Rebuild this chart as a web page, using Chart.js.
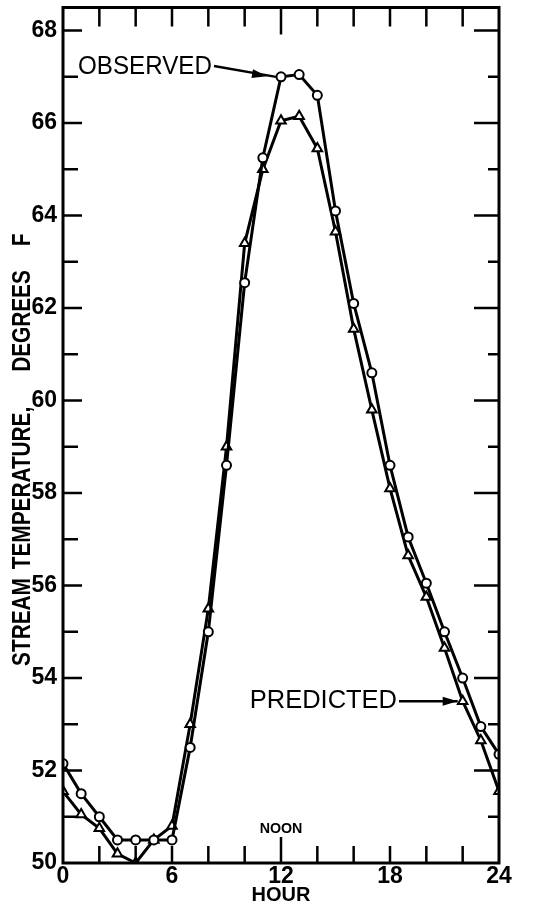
<!DOCTYPE html>
<html>
<head>
<meta charset="utf-8">
<script src="https://cdn.jsdelivr.net/npm/chart.js@4.4.0/dist/chart.umd.min.js"></script>
<style>
html,body{margin:0;padding:0;background:#fff;}
#wrap{width:535px;height:905px;position:relative;}
</style>
</head>
<body>
<div id="wrap"><canvas id="c" width="535" height="905"></canvas></div>
<script>
// ---- data ----
const hours = [0,1,2,3,4,5,6,7,8,9,10,11,12,13,14,15,16,17,18,19,20,21,22,23,24];
const observed = [52.15,51.5,51.0,50.5,50.5,50.5,50.5,52.5,55.0,58.6,62.55,65.25,67.0,67.05,66.6,64.1,62.1,60.6,58.6,57.05,56.05,55.0,54.0,52.95,52.35];
const predicted = [51.55,51.05,50.75,50.2,50.0,50.5,50.8,53.0,55.5,59.0,63.4,65.0,66.05,66.15,65.45,63.65,61.55,59.8,58.1,56.65,55.75,54.65,53.5,52.65,51.55];
const xTickValues = [0,6,12,18,24];
const yTickValues = [50,52,54,56,58,60,62,64,66,68];
const xTitle = 'HOUR';
const yTitleWords = ['STREAM','TEMPERATURE,','DEGREES','F'];
const noonLabel = 'NOON';
const observedLabel = 'OBSERVED';
const predictedLabel = 'PREDICTED';

const FONT = "'Liberation Sans', Arial, Helvetica, sans-serif";

function drawScaledText(ctx, text, x, y, font, sx, align, rot) {
  ctx.save();
  ctx.translate(x, y);
  if (rot) ctx.rotate(rot);
  ctx.scale(sx, 1);
  ctx.font = font;
  ctx.textAlign = align;
  ctx.textBaseline = 'middle';
  ctx.fillStyle = '#000';
  ctx.fillText(text, 0, 0);
  ctx.restore();
}

function drawArrow(ctx, x1, y1, x2, y2, tipX, tipY) {
  ctx.save();
  ctx.strokeStyle = '#000';
  ctx.fillStyle = '#000';
  ctx.lineWidth = 2.5;
  ctx.beginPath();
  ctx.moveTo(x1, y1);
  ctx.lineTo(x2, y2);
  ctx.stroke();
  const ang = Math.atan2(y2 - y1, x2 - x1);
  const L = 15, W = 4.5;
  ctx.beginPath();
  ctx.moveTo(tipX, tipY);
  ctx.lineTo(tipX - L * Math.cos(ang) + W * Math.sin(ang), tipY - L * Math.sin(ang) - W * Math.cos(ang));
  ctx.lineTo(tipX - L * Math.cos(ang) - W * Math.sin(ang), tipY - L * Math.sin(ang) + W * Math.cos(ang));
  ctx.closePath();
  ctx.fill();
  ctx.restore();
}

const framePlugin = {
  id: 'frame',
  afterDatasetsDraw(chart) {
    const {ctx, chartArea: a, scales: {x, y}} = chart;
    ctx.save();
    ctx.strokeStyle = '#000';
    ctx.lineCap = 'butt';
    ctx.lineWidth = 2.5;
    ctx.beginPath();
    for (let v = 51; v <= 68; v++) {
      const py = y.getPixelForValue(v);
      const even = v % 2 === 0;
      ctx.moveTo(a.left, py); ctx.lineTo(a.left + (even ? 19 : 15), py);
      ctx.moveTo(a.right, py); ctx.lineTo(a.right - (even ? 25 : 11), py);
    }
    for (let h = 2; h <= 22; h += 2) {
      const px = x.getPixelForValue(h);
      ctx.moveTo(px, a.top); ctx.lineTo(px, a.top + (h === 12 ? 27 : 19));
      ctx.moveTo(px, a.bottom); ctx.lineTo(px, a.bottom - (h === 12 ? 26 : 17));
    }
    ctx.stroke();
    ctx.lineWidth = 3;
    ctx.strokeRect(a.left, a.top, a.right - a.left, a.bottom - a.top);
    ctx.restore();

    // NOON label above the 12-hour tick
    drawScaledText(ctx, noonLabel, x.getPixelForValue(12), a.bottom - 34, 'bold 15px ' + FONT, 0.95, 'center');

    // OBSERVED annotation + arrow to hour-12 observed point
    const ox = x.getPixelForValue(12), oy = y.getPixelForValue(observed[12]);
    drawScaledText(ctx, observedLabel, 78, 67, '26px ' + FONT, 0.93, 'left');
    drawArrow(ctx, 214, 66, ox - 5, oy, ox - 14, oy - 0.7);

    // PREDICTED annotation + arrow to hour-22 predicted point
    const px = x.getPixelForValue(22), py = y.getPixelForValue(predicted[22]);
    drawScaledText(ctx, predictedLabel, 397, py, '26px ' + FONT, 0.98, 'right');
    drawArrow(ctx, 399, py, px - 5, py, px - 5, py);

    // Y-axis title (rotated, word by word)
    const yPos = [622, 488, 321, 240];
    yTitleWords.forEach((w, i) => {
      drawScaledText(ctx, w, 23, yPos[i], 'bold 26px ' + FONT, 0.8, 'center', -Math.PI / 2);
    });
  }
};

new Chart(document.getElementById('c'), {
  type: 'line',
  data: {
    labels: hours,
    datasets: [
      {
        label: observedLabel,
        data: hours.map((h, i) => ({x: h, y: observed[i]})),
        borderColor: '#000',
        borderWidth: 3,
        backgroundColor: '#fff',
        pointStyle: 'circle',
        pointRadius: 4.5,
        pointBorderWidth: 2,
        pointBackgroundColor: '#fff',
        pointBorderColor: '#000',
        tension: 0,
        fill: false
      },
      {
        label: predictedLabel,
        data: hours.map((h, i) => ({x: h, y: predicted[i]})),
        borderColor: '#000',
        borderWidth: 3,
        backgroundColor: '#fff',
        pointStyle: 'triangle',
        pointRadius: 5.5,
        pointBorderWidth: 2,
        pointBackgroundColor: '#fff',
        pointBorderColor: '#000',
        tension: 0,
        fill: false
      }
    ]
  },
  options: {
    responsive: false,
    animation: false,
    events: [],
    layout: {padding: {top: 5, right: 36, left: 0, bottom: 0}},
    plugins: {legend: {display: false}, tooltip: {enabled: false}},
    scales: {
      x: {
        type: 'linear',
        min: 0, max: 24,
        grid: {display: false, drawTicks: false},
        border: {display: false},
        afterBuildTicks: s => { s.ticks = xTickValues.map(v => ({value: v})); },
        afterFit: s => { s.height = 42; s.paddingLeft = 0; s.paddingRight = 0; },
        ticks: {
          color: '#000', padding: 0, maxRotation: 0, autoSkip: false,
          font: {family: FONT, size: 23, weight: 'bold'},
          callback: v => String(v)
        },
        title: {
          display: true, text: xTitle, color: '#000', padding: 0,
          font: {family: FONT, size: 20, weight: 'bold', lineHeight: 1}
        }
      },
      y: {
        type: 'linear',
        min: 50, max: 68.5,
        grid: {display: false, drawTicks: false},
        border: {display: false},
        afterBuildTicks: s => { s.ticks = yTickValues.map(v => ({value: v})); },
        afterFit: s => { s.width = 63; s.paddingTop = 0; s.paddingBottom = 0; },
        ticks: {
          color: '#000', padding: 6, autoSkip: false,
          font: {family: FONT, size: 23, weight: 'bold'},
          callback: v => String(v)
        }
      }
    }
  },
  plugins: [framePlugin]
});
</script>
</body>
</html>
